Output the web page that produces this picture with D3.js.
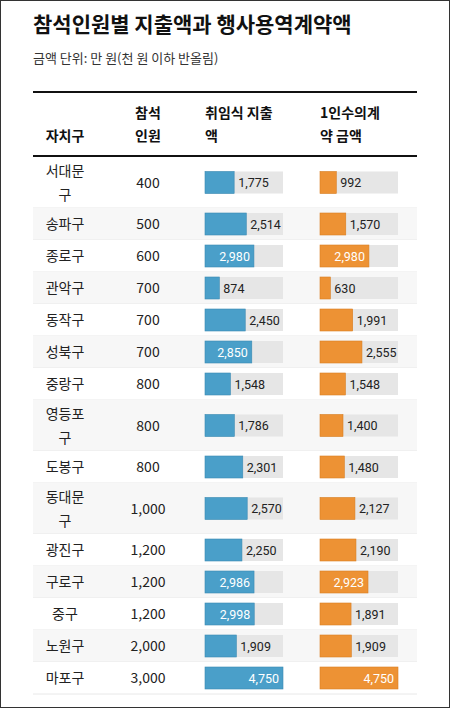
<!DOCTYPE html>
<html><head><meta charset="utf-8">
<script src="https://cdn.jsdelivr.net/npm/d3@7"></script>
<style>
body{margin:0;background:#fff;font-family:"Noto Sans CJK KR","Noto Sans",sans-serif;}
svg{display:block;}
</style></head><body>
<svg id="c"></svg>
<script>
var districts = [["서대문","구"],["송파구"],["종로구"],["관악구"],["동작구"],["성북구"],["중랑구"],["영등포","구"],["도봉구"],["동대문","구"],["광진구"],["구로구"],["중구"],["노원구"],["마포구"]];
var attendees = [400,500,600,700,700,700,800,800,800,1000,1200,1200,1200,2000,3000];
var spending = [1775,2514,2980,874,2450,2850,1548,1786,2301,2570,2250,2986,2998,1909,4750];
var contract = [992,1570,2980,630,1991,2555,1548,1400,1480,2127,2190,2923,1891,1909,4750];
var headers = [["자치구"],["참석","인원"],["취임식 지출","액"],["1인수의계","약 금액"]];

var W = 450, H = 708;
var svg = d3.select("#c").attr("width", W).attr("height", H);
svg.append("rect").attr("x",0.5).attr("y",0.5).attr("width",W-1).attr("height",H-1)
  .attr("fill","#fff").attr("stroke","#333");

svg.append("text").attr("x",33).attr("y",32).attr("font-size",21).attr("font-weight",700)
  .attr("fill","#111").text("참석인원별 지출액과 행사용역계약액");
svg.append("text").attr("x",33).attr("y",63).attr("font-size",13).attr("fill","#333")
  .text("금액 단위: 만 원(천 원 이하 반올림)");

var left = 33, right = 417;
svg.append("line").attr("x1",left).attr("x2",right).attr("y1",92).attr("y2",92).attr("stroke","#111").attr("stroke-width",2);
svg.append("line").attr("x1",left).attr("x2",right).attr("y1",156).attr("y2",156).attr("stroke","#111").attr("stroke-width",2);

var colX = [65,148,205,320];
headers.forEach(function(h,i){
  var t = svg.append("text").attr("font-size",14).attr("font-weight",700).attr("fill","#111")
    .attr("x",colX[i]).attr("text-anchor", i<2 ? "middle" : "start");
  var y0 = h.length==1 ? 141 : 118;
  h.forEach(function(s,j){ t.append("tspan").attr("x",colX[i]).attr("y",y0+j*23).text(s); });
});

var rowH = districts.map(function(d){ return d.length>1 ? 51 : 32; });
var tops = [], y = 157;
rowH.forEach(function(h){ tops.push(y); y += h; });

var barW = 78, barH = 22;
var x = d3.scaleLinear().domain([0,4750]).range([0,barW]);
var fmt = d3.format(",");

var rows = svg.selectAll(".row").data(d3.range(districts.length)).enter().append("g")
  .attr("class","row").attr("transform",function(i){ return "translate(0,"+tops[i]+")"; });
rows.append("rect").attr("x",left).attr("width",right-left).attr("height",function(i){return rowH[i];})
  .attr("fill",function(i){ return i%2 ? "#f7f7f7" : "#fff"; });
rows.append("line").attr("x1",left).attr("x2",right).attr("y1",function(i){return rowH[i];}).attr("y2",function(i){return rowH[i];})
  .attr("stroke","#e8e8e8");

rows.each(function(i){
  var g = d3.select(this), h = rowH[i], cy = h/2;
  var d = districts[i];
  var t = g.append("text").attr("font-size",14).attr("fill","#222").attr("text-anchor","middle");
  d.forEach(function(s,j){ t.append("tspan").attr("x",colX[0]).attr("y",cy+5+(j-(d.length-1)/2)*24).text(s); });
  g.append("text").attr("x",colX[1]).attr("y",cy+5).attr("text-anchor","middle").attr("font-size",14).attr("fill","#222")
    .text(fmt(attendees[i]));
  [[spending[i],colX[2],"#4a9fc9","#3b8ab3"],[contract[i],colX[3],"#ed9234","#d97f22"]].forEach(function(b){
    var v = b[0], bx = b[1], w = x(v);
    g.append("rect").attr("x",bx).attr("y",cy-barH/2).attr("width",barW).attr("height",barH).attr("fill","#e6e6e6");
    g.append("rect").attr("x",bx).attr("y",cy-barH/2).attr("width",w).attr("height",barH).attr("fill",b[2])
      .attr("stroke",b[3]).attr("stroke-width",0.6);
    var inside = v/4750 > 0.58;
    g.append("text").attr("x", inside ? bx+w-4 : bx+w+4).attr("y",cy+4.5)
      .attr("text-anchor", inside ? "end" : "start").attr("font-size",12.5)
      .attr("font-family","Roboto,'Noto Sans',sans-serif")
      .attr("fill", inside ? "#fff" : "#222").text(fmt(v));
  });
});
</script></body></html>
